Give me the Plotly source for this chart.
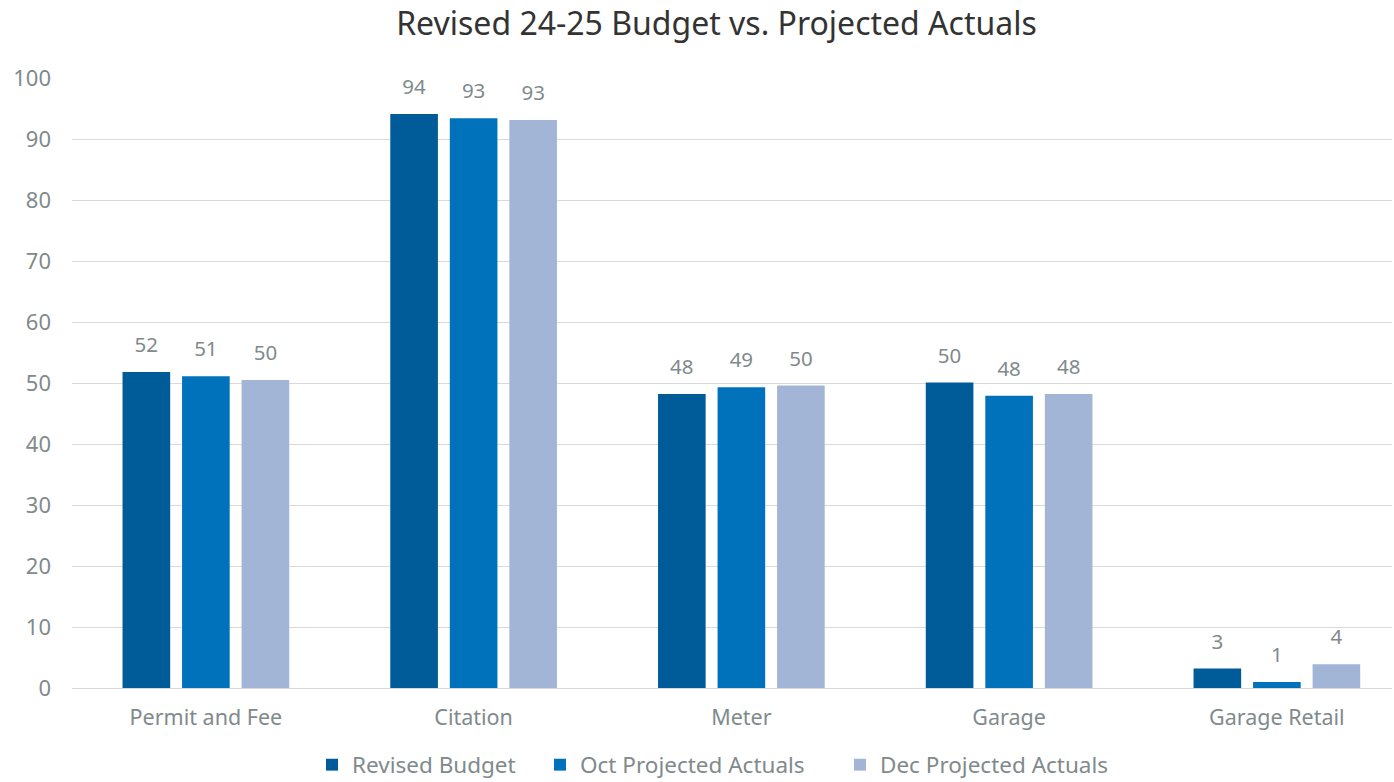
import plotly.graph_objects as go

categories = ["Permit and Fee", "Citation", "Meter", "Garage", "Garage Retail"]
revised_budget = [51.8, 94.1, 48.2, 50.1, 3.2]
oct_projected = [51.1, 93.4, 49.3, 47.9, 1.0]
dec_projected = [50.5, 93.1, 49.6, 48.2, 3.9]
y_ticks = [0, 10, 20, 30, 40, 50, 60, 70, 80, 90, 100]

series = [
    ("Revised Budget", revised_budget, "#005b99"),
    ("Oct Projected Actuals", oct_projected, "#0072bc"),
    ("Dec Projected Actuals", dec_projected, "#a3b5d6"),
]

FONT = "Noto Sans"
GRAY = "#7f8a8c"
legend_ids = ["legend", "legend2", "legend3"]
legend_left = [312, 540, 840]

fig = go.Figure()
for i, (name, vals, color) in enumerate(series):
    fig.add_trace(go.Bar(
        x=categories, y=vals, name=name, marker_color=color,
        marker_line_width=0, offsetgroup=str(i), legend=legend_ids[i],
    ))
for i, (name, vals, color) in enumerate(series):
    fig.add_trace(go.Scatter(
        x=categories, y=vals, mode="markers+text", showlegend=False,
        text=[f"{v:.0f}" for v in vals], textposition="top center",
        marker=dict(size=22, opacity=0), offsetgroup=str(i),
        textfont=dict(family=FONT, size=20.5, color=GRAY),
        hoverinfo="skip", cliponaxis=False,
    ))

legend_common = dict(orientation="h", xref="container", yref="container",
                     xanchor="left", yanchor="middle", y=17 / 782,
                     font=dict(family=FONT, size=22.5, color=GRAY),
                     bgcolor="rgba(0,0,0,0)")

fig.update_layout(
    width=1394, height=782,
    paper_bgcolor="white", plot_bgcolor="white",
    barmode="group", bargap=0.333, bargroupgap=0.2,
    scattermode="group", scattergap=0.333,
    margin=dict(l=72, r=2, t=78, b=94, autoexpand=False),
    title=dict(text="Revised 24-25 Budget vs. Projected Actuals",
               xref="container", x=716.5 / 1394, xanchor="center",
               yref="container", y=1 - 24 / 782, yanchor="middle",
               font=dict(family=FONT, size=32, color="#333333")),
    font=dict(family=FONT, color=GRAY),
    legend=dict(legend_common, x=legend_left[0] / 1394),
    legend2=dict(legend_common, x=legend_left[1] / 1394),
    legend3=dict(legend_common, x=legend_left[2] / 1394),
    xaxis=dict(tickfont=dict(family=FONT, size=21.5, color=GRAY),
               range=[-0.5, 4.43],
               showline=True, linecolor="#d9d9d9", linewidth=1, ticks="",
               ticklabelstandoff=10),
    yaxis=dict(range=[0, 100], tickvals=y_ticks, ticks="",
               tickfont=dict(family=FONT, size=22, color=GRAY),
               gridcolor="#d9d9d9", gridwidth=1, zeroline=False, ticklabelstandoff=20),
)

fig.write_html("out.html", config={"displayModeBar": False},
               post_script="document.body.style.margin='0px';")
